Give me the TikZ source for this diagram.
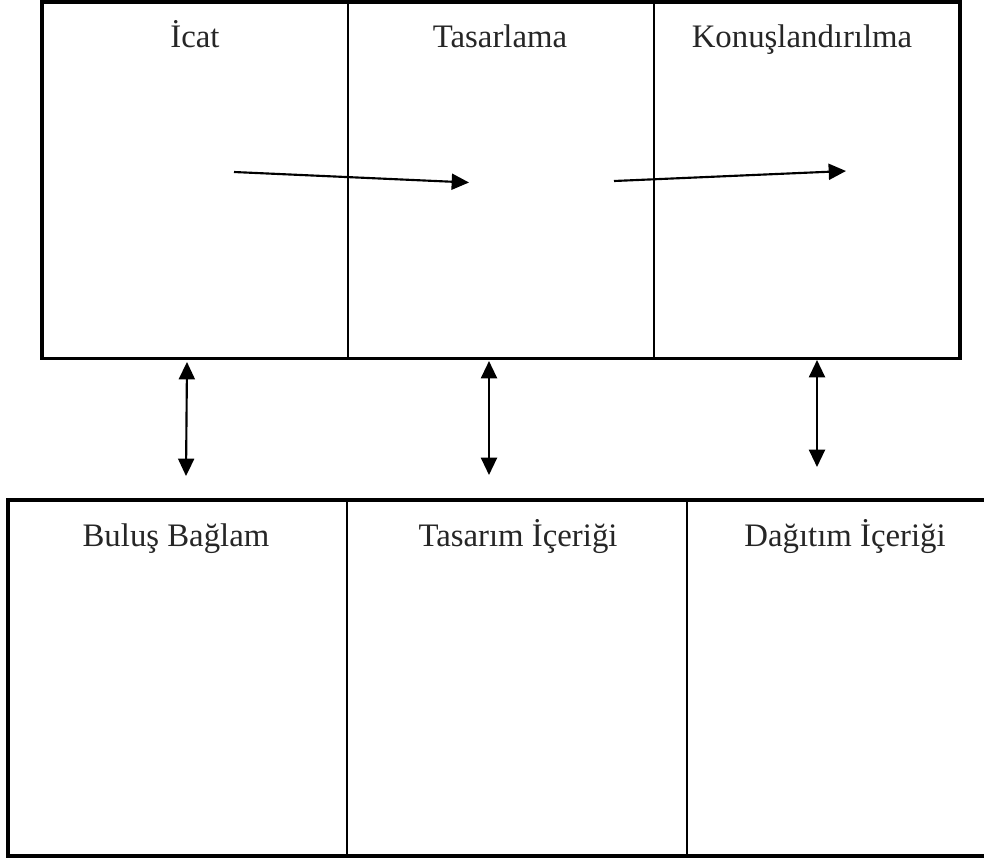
\documentclass[tikz,border=0pt]{standalone}
\usepackage{fontspec}
\setmainfont{Liberation Serif}
\usetikzlibrary{arrows.meta}
\begin{document}
\begin{tikzpicture}[x=0.75pt,y=-0.75pt,
  outer/.style={line width=2.4pt,black},
  divider/.style={line width=1.6pt,black},
  conn/.style={line width=1.6pt,black,-{Triangle[length=13pt,width=12pt]}},
  biconn/.style={line width=1.6pt,black,{Triangle[length=13pt,width=12pt]}-{Triangle[length=13pt,width=12pt]}},
  lbl/.style={font=\fontsize{24.6}{28}\selectfont,text=black!85,anchor=base,inner sep=0pt}]
\useasboundingbox (0,0) rectangle (984,861);
% top table
\coordinate (tTL) at (42,2);
\coordinate (tBR) at (960,358.5);
\draw[outer] (tTL) rectangle (tBR);
\coordinate (tD1a) at (348,2); \coordinate (tD1b) at (348,358.5);
\coordinate (tD2a) at (654,2); \coordinate (tD2b) at (654,358.5);
\draw[divider] (tD1a) -- (tD1b);
\draw[divider] (tD2a) -- (tD2b);
% bottom table
\coordinate (bTR) at (986,500);
\coordinate (bTL) at (8,500);
\coordinate (bBL) at (8,856);
\coordinate (bBR) at (986,856);
\draw[outer] (bTR) -- (bTL) -- (bBL) -- (bBR);
\coordinate (bD1a) at (347,500); \coordinate (bD1b) at (347,856);
\coordinate (bD2a) at (687,500); \coordinate (bD2b) at (687,856);
\draw[divider] (bD1a) -- (bD1b);
\draw[divider] (bD2a) -- (bD2b);
% labels
\node[lbl] (icat) at (195,47.5) {İcat};
\node[lbl] (tasarlama) at (500,47.5) {Tasarlama};
\node[lbl] (konus) at (802,47.5) {Konuşlandırılma};
\node[lbl] (bulus) at (176,546) {Buluş Bağlam};
\node[lbl] (tasarim) at (518,546) {Tasarım İçeriği};
\node[lbl] (dagitim) at (845,546) {Dağıtım İçeriği};
% horizontal arrows
\coordinate (h1s) at (234,172);
\coordinate (h1e) at (469,182.5);
\coordinate (h2s) at (614,181);
\coordinate (h2e) at (846,171);
\draw[conn] (h1s) -- (h1e);
\draw[conn] (h2s) -- (h2e);
% vertical arrows
\coordinate (v1a) at (187,362); \coordinate (v1b) at (186,476);
\coordinate (v2a) at (489,361); \coordinate (v2b) at (489,475);
\coordinate (v3a) at (817,360); \coordinate (v3b) at (817,467);
\draw[biconn] (v1a) -- (v1b);
\draw[biconn] (v2a) -- (v2b);
\draw[biconn] (v3a) -- (v3b);
\end{tikzpicture}
\end{document}
